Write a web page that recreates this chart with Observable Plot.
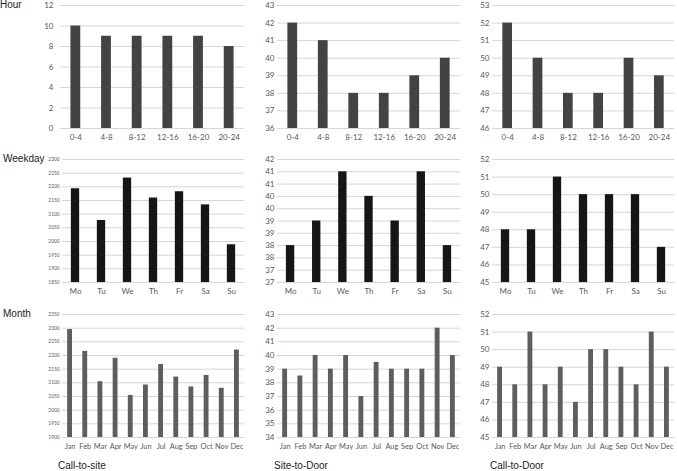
<!DOCTYPE html>
<html>
<head>
<meta charset="utf-8">
<script src="https://cdn.jsdelivr.net/npm/d3@7"></script>
<script src="https://cdn.jsdelivr.net/npm/@observablehq/plot@0.6"></script>
<style>
  html, body { margin: 0; padding: 0; background: #fff; }
  #wrap { position: relative; width: 677px; height: 471px; overflow: hidden; background: #fff; }
  .lbl { position: absolute; font-family: "Liberation Sans", Arial, sans-serif; color: #222; line-height: 12px; white-space: nowrap; }
</style>
</head>
<body>
<div id="wrap"></div>
<script>
// ---- categories ----
const hourCats = ["0-4", "4-8", "8-12", "12-16", "16-20", "20-24"];
const weekdayCats = ["Mo", "Tu", "We", "Th", "Fr", "Sa", "Su"];
const monthCats = ["Jan", "Feb", "Mar", "Apr", "May", "Jun", "Jul", "Aug", "Sep", "Oct", "Nov", "Dec"];

// ---- values: Hour ----
const hourCallToSite = [10, 9, 9, 9, 9, 8];
const hourSiteToDoor = [42, 41, 38, 38, 39, 40];
const hourCallToDoor = [52, 50, 48, 48, 50, 49];

// ---- values: Weekday ----
const weekdayCallToSite = [2193, 2077, 2232, 2159, 2182, 2134, 1988];
const weekdaySiteToDoor = [38, 39, 41, 40, 39, 41, 38];
const weekdayCallToDoor = [48, 48, 51, 50, 50, 50, 47];

// ---- values: Month ----
const monthCallToSite = [2295, 2215, 2104, 2190, 2054, 2092, 2167, 2121, 2085, 2127, 2080, 2220];
const monthSiteToDoor = [39, 38.5, 40, 39, 40, 37, 39.5, 39, 39, 39, 42, 40];
const monthCallToDoor = [49, 48, 51, 48, 49, 47, 50, 50, 49, 48, 51, 49];

// ---- y tick values ----
const ticksHourCTS = [0, 2, 4, 6, 8, 10, 12];
const ticksHourSTD = [36, 37, 38, 39, 40, 41, 42, 43];
const ticksHourCTD = [46, 47, 48, 49, 50, 51, 52, 53];
const ticksWeekdayCTS = [1850, 1900, 1950, 2000, 2050, 2100, 2150, 2200, 2250, 2300];
const ticksWeekdaySTD = [36.5, 37, 37.5, 38, 38.5, 39, 39.5, 40, 40.5, 41, 41.5];
const ticksWeekdayCTD = [45, 46, 47, 48, 49, 50, 51, 52];
const ticksMonthCTS = [1900, 1950, 2000, 2050, 2100, 2150, 2200, 2250, 2300, 2350];
const ticksMonthSTD = [34, 35, 36, 37, 38, 39, 40, 41, 42, 43];
const ticksMonthCTD = [45, 46, 47, 48, 49, 50, 51, 52];

// ---- text labels ----
const rowLabels = ["Hour", "Weekday", "Month"];
const colLabels = ["Call-to-site", "Site-to-Door", "Call-to-Door"];

const wrap = document.getElementById("wrap");
const ML = 40, MR = 3, MT = 6, MB = 20;

function panel(o) {
  const w = o.fx1 - o.fx0, h = o.fy1 - o.fy0;
  const lo = o.ticks[0], hi = o.ticks[o.ticks.length - 1];
  const data = o.cats.map((c, i) => ({c, v: o.values[i]}));
  const svg = Plot.plot({
    width: ML + w + MR,
    height: MT + h + MB,
    marginLeft: ML, marginRight: MR, marginTop: MT, marginBottom: MB,
    style: {background: "transparent", overflow: "visible", color: "#595959", fontFamily: "Lato, 'Open Sans', sans-serif", fontSize: "8px"},
    x: {type: "band", domain: o.cats, paddingInner: 0.68, paddingOuter: 0.34, round: false, label: null, tickSize: 0, tickPadding: 6},
    y: {domain: [lo, hi], ticks: o.ticks, tickFormat: o.fmt, label: null, tickSize: 0, tickPadding: o.yPad},
    marks: [
      Plot.ruleY(o.ticks, {stroke: "#d6d6d6", strokeWidth: 1}),
      Plot.barY(data, {x: "c", y1: lo, y2: "v", fill: o.fill})
    ]
  });
  svg.querySelectorAll('[aria-label^="y-axis"] text').forEach(t => { t.style.fontSize = o.yFont; });
  svg.querySelectorAll('[aria-label^="x-axis"] text').forEach(t => { t.style.fontSize = o.xFont; });
  svg.style.position = "absolute";
  svg.style.left = (o.fx0 - ML) + "px";
  svg.style.top = (o.fy0 - MT) + "px";
  svg.style.maxWidth = "none";
  wrap.appendChild(svg);
}

const cols = [{x0: 60, x1: 244}, {x0: 277, x1: 460}, {x0: 492, x1: 674}];
const rows = [{y0: 5, y1: 128}, {y0: 159, y1: 282}, {y0: 314, y1: 437}];
const fills = ["#434343", "#161616", "#5e5e5e"];

const spec = [
  [hourCats, [hourCallToSite, hourSiteToDoor, hourCallToDoor], [ticksHourCTS, ticksHourSTD, ticksHourCTD]],
  [weekdayCats, [weekdayCallToSite, weekdaySiteToDoor, weekdayCallToDoor], [ticksWeekdayCTS, ticksWeekdaySTD, ticksWeekdayCTD]],
  [monthCats, [monthCallToSite, monthSiteToDoor, monthCallToDoor], [ticksMonthCTS, ticksMonthSTD, ticksMonthCTD]]
];

spec.forEach(([cats, vals, tickSets], r) => {
  vals.forEach((values, c) => {
    panel({
      cats, values, ticks: tickSets[c],
      fx0: (r > 0 && c === 0) ? 62 : cols[c].x0, fx1: cols[c].x1,
      fy0: rows[r].y0, fy1: rows[r].y1,
      fill: fills[r],
      yFont: (r > 0 && c === 0) ? "4.8px" : "8px",
      xFont: r === 2 ? "7.4px" : "8px",
      yPad: (r === 0 && c === 0) ? 7 : 3,
      fmt: (r === 1 && c === 1) ? (d => String(Math.round(d))) : (d => String(d))
    });
  });
});

// row labels
const rowPos = [{left: 0, top: -1}, {left: 3, top: 153}, {left: 3, top: 308}];
rowLabels.forEach((t, i) => {
  const d = document.createElement("div");
  d.className = "lbl";
  d.textContent = t;
  d.style.left = rowPos[i].left + "px";
  d.style.top = rowPos[i].top + "px";
  d.style.fontSize = "10px";
  wrap.appendChild(d);
});
// column (bottom) labels
const colPos = [58, 274, 490];
colLabels.forEach((t, i) => {
  const d = document.createElement("div");
  d.className = "lbl";
  d.textContent = t;
  d.style.left = colPos[i] + "px";
  d.style.top = "460px";
  d.style.fontSize = "10px";
  wrap.appendChild(d);
});
</script>
</body>
</html>
